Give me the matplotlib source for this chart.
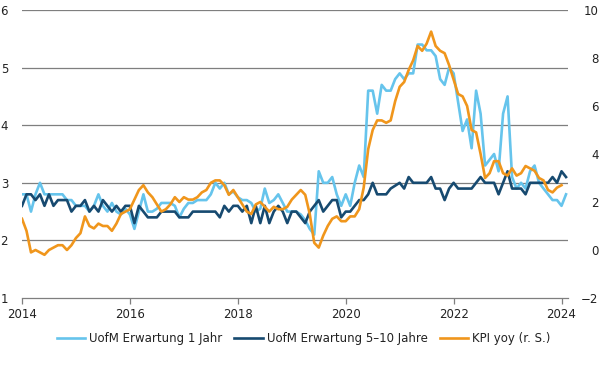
import matplotlib
matplotlib.use("Agg")
import matplotlib.pyplot as plt
import numpy as np

# monthly values, first point plotted at 2014-01
uofm_1j = [2.8, 2.8,
           2.5, 2.8, 3.0, 2.8, 2.8, 2.8, 2.8, 2.8, 2.7, 2.7, 2.6, 2.6,
           2.6, 2.5, 2.6, 2.8, 2.6, 2.5, 2.65, 2.5, 2.45, 2.55, 2.45, 2.2,
           2.5, 2.8, 2.5, 2.5, 2.55, 2.65, 2.65, 2.65, 2.6, 2.4, 2.55, 2.65,
           2.65, 2.7, 2.7, 2.7, 2.8, 3.0, 2.9, 3.0, 2.8, 2.85, 2.75, 2.7,
           2.7, 2.65, 2.5, 2.55, 2.9, 2.65, 2.7, 2.8, 2.65, 2.5, 2.5, 2.5,
           2.45, 2.35, 2.2, 2.1, 3.2, 3.0, 3.0, 3.1, 2.8, 2.6, 2.8, 2.6,
           3.0, 3.3, 3.1, 4.6, 4.6, 4.2, 4.7, 4.6, 4.6, 4.8, 4.9, 4.8,
           4.9, 4.9, 5.4, 5.4, 5.3, 5.3, 5.2, 4.8, 4.7, 5.0, 4.9, 4.4,
           3.9, 4.1, 3.6, 4.6, 4.2, 3.3, 3.4, 3.5, 3.2, 4.2, 4.5, 3.1,
           2.9, 3.0, 2.9, 3.2, 3.3, 3.0, 2.9, 2.8, 2.7, 2.7, 2.6, 2.8]

uofm_5_10j = [2.6, 2.8,
              2.8, 2.7, 2.8, 2.6, 2.8, 2.6, 2.7, 2.7, 2.7, 2.5, 2.6, 2.6,
              2.7, 2.5, 2.6, 2.5, 2.7, 2.6, 2.5, 2.6, 2.5, 2.6, 2.6, 2.3,
              2.6, 2.5, 2.4, 2.4, 2.4, 2.5, 2.5, 2.5, 2.5, 2.4, 2.4, 2.4,
              2.5, 2.5, 2.5, 2.5, 2.5, 2.5, 2.4, 2.6, 2.5, 2.6, 2.6, 2.5,
              2.6, 2.3, 2.6, 2.3, 2.6, 2.3, 2.5, 2.6, 2.5, 2.3, 2.5, 2.5,
              2.4, 2.3, 2.5, 2.6, 2.7, 2.5, 2.6, 2.7, 2.7, 2.4, 2.5, 2.5,
              2.6, 2.7, 2.7, 2.8, 3.0, 2.8, 2.8, 2.8, 2.9, 2.95, 3.0, 2.9,
              3.1, 3.0, 3.0, 3.0, 3.0, 3.1, 2.9, 2.9, 2.7, 2.9, 3.0, 2.9,
              2.9, 2.9, 2.9, 3.0, 3.1, 3.0, 3.0, 3.0, 2.8, 3.0, 3.2, 2.9,
              2.9, 2.9, 2.8, 3.0, 3.0, 3.0, 3.0, 3.0, 3.1, 3.0, 3.2, 3.1]

kpi_yoy = [1.3, 0.8,
           -0.1, 0.0, -0.1, -0.2, 0.0, 0.1, 0.2, 0.2, 0.0, 0.2, 0.5, 0.7,
           1.4, 1.0, 0.9, 1.1, 1.0, 1.0, 0.8, 1.1, 1.5, 1.6, 1.7, 2.1,
           2.5, 2.7, 2.4, 2.2, 1.9, 1.6, 1.7, 1.9, 2.2, 2.0, 2.2, 2.1,
           2.1, 2.2, 2.4, 2.5, 2.8, 2.9, 2.9, 2.7, 2.3, 2.5, 2.2, 1.9,
           1.6, 1.5, 1.9, 2.0, 1.8, 1.6, 1.8, 1.7, 1.7, 1.8, 2.1, 2.3,
           2.5, 2.3, 1.5, 0.3, 0.1, 0.6, 1.0, 1.3, 1.4, 1.2, 1.2, 1.4,
           1.4, 1.7, 2.6, 4.2, 5.0, 5.4, 5.4, 5.3, 5.4, 6.2, 6.8, 7.0,
           7.5, 7.9, 8.5, 8.3, 8.6, 9.1, 8.5, 8.3, 8.2, 7.7, 7.1, 6.5,
           6.4, 6.0, 5.0, 4.9, 4.0, 3.0, 3.2, 3.7, 3.7, 3.2, 3.1, 3.4,
           3.1, 3.2, 3.5, 3.4, 3.3, 3.0, 2.9, 2.5, 2.4, 2.6, 2.7]

year_ticks = [2014, 2016, 2018, 2020, 2022, 2024]
left_ticks = [1, 2, 3, 4, 5, 6]
right_ticks = [-2, 0, 2, 4, 6, 8, 10]

C_HELL = "#66C4EC"
C_DUNKEL = "#174A70"
C_ORANGE = "#F0961C"
GRID = "#7f7f7f"
TXT = "#222222"

plt.rcParams["font.family"] = ["DejaVu Sans"]
plt.rcParams["font.size"] = 8.5

t1 = 2014 + np.arange(len(uofm_1j)) / 12
t2 = 2014 + np.arange(len(uofm_5_10j)) / 12
t3 = 2014 + np.arange(len(kpi_yoy)) / 12

fig = plt.figure(figsize=(6, 3.8), dpi=100)
ax = fig.add_axes([22/600, 82/380, 546/600, 288/380])
ax2 = ax.twinx()

l1, = ax.plot(t1, uofm_1j, color=C_HELL, lw=1.9, label="UofM Erwartung 1 Jahr")
l2, = ax.plot(t2, uofm_5_10j, color=C_DUNKEL, lw=1.9, label="UofM Erwartung 5\u201310 Jahre")
l3, = ax2.plot(t3, kpi_yoy, color=C_ORANGE, lw=1.9, label="KPI yoy (r. S.)")

ax.set_xlim(2014, 2024.12)
ax.set_ylim(1, 6)
ax2.set_ylim(-2, 10)
ax.set_yticks(left_ticks)
ax2.set_yticks(right_ticks)
ax.set_xticks(year_ticks)

for y in left_ticks[1:]:
    ax.axhline(y, color=GRID, lw=0.9, zorder=0)

for s in ["top", "left", "right"]:
    ax.spines[s].set_visible(False)
    ax2.spines[s].set_visible(False)
ax2.spines["bottom"].set_visible(False)
ax.spines["bottom"].set_color(GRID)
ax.spines["bottom"].set_linewidth(0.9)

ax.tick_params(axis="x", length=4, width=0.9, color=GRID, pad=3, labelcolor=TXT, labelsize=8.5)
ax.tick_params(axis="y", length=0, pad=10, labelcolor=TXT, labelsize=8.5)
ax2.tick_params(axis="y", length=0, pad=22, labelcolor=TXT, labelsize=8.5)
for lab in ax2.get_yticklabels():
    lab.set_horizontalalignment("right")

fig.legend(handles=[l1, l2, l3], loc="center", bbox_to_anchor=(0.506, 0.109),
           ncol=3, frameon=False, handlelength=2.4, handletextpad=0.35,
           columnspacing=1.0, fontsize=8.5, labelcolor=TXT)

fig.savefig("out.png", dpi=100)
